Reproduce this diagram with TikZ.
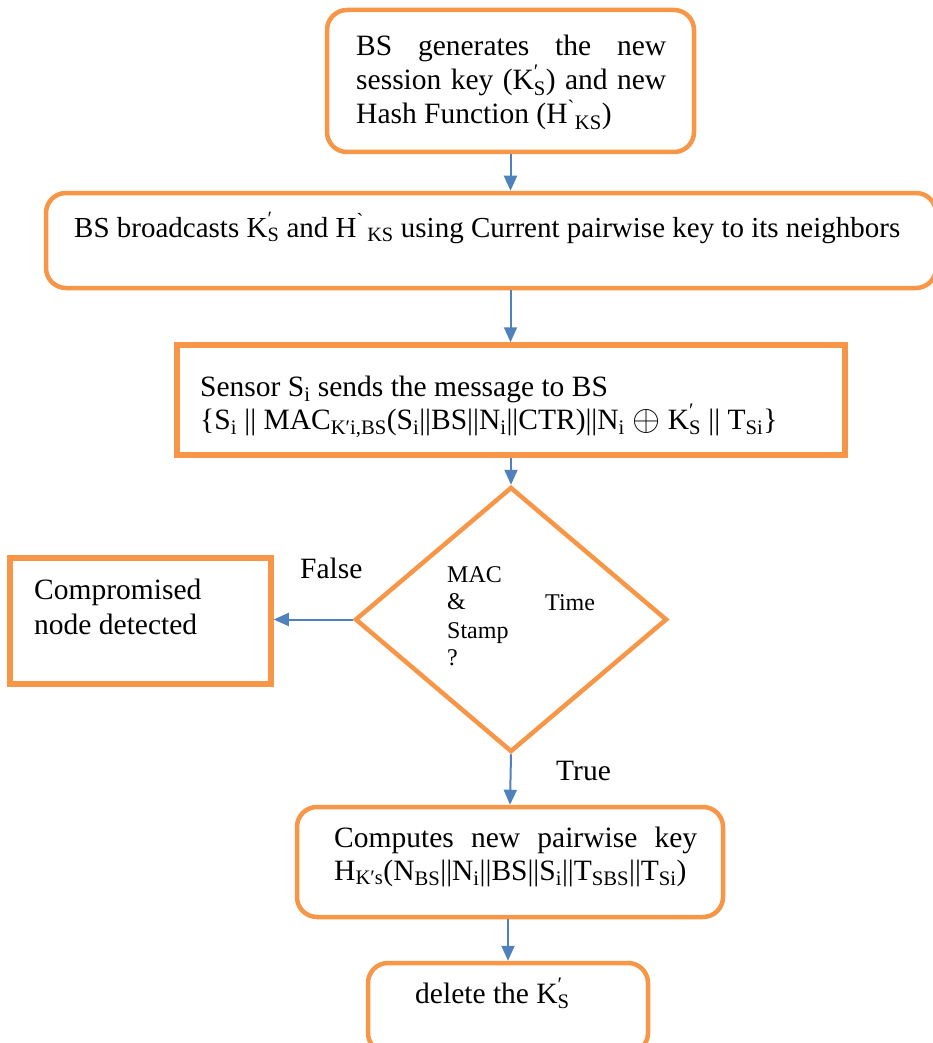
\documentclass[tikz,border=0pt]{standalone}
\usepackage{fontspec}
\setmainfont{Liberation Serif}
\usetikzlibrary{shapes.geometric,arrows.meta}
\definecolor{org}{HTML}{F79646}
\definecolor{arr}{HTML}{4F81BD}
\newcommand{\supsub}[2]{\rlap{\raisebox{2pt}{\textsuperscript{#1}}}\textsubscript{#2}}
\newcommand{\pr}{\char"2032}
\begin{document}
\begin{tikzpicture}[x=1pt,y=-1pt,
  rbox/.style={draw=org,line width=4.5pt,rounded corners=20pt,inner sep=0pt},
  sbox/.style={draw=org,line width=5.5pt,inner sep=0pt},
  dbox/.style={diamond,draw=org,line width=4.5pt,inner sep=0pt},
  txt/.style={anchor=base west,inner sep=0pt,font=\fontsize{29.5}{34}\selectfont},
  stxt/.style={anchor=base west,inner sep=0pt,font=\fontsize{24}{28}\selectfont},
  conn/.style={draw=arr,line width=2pt,-{Triangle[length=15pt,width=13pt]}}]
\useasboundingbox (0,0) rectangle (932,1043);
% boxes
\node[rbox,minimum width=367pt,minimum height=142pt] (b1) at (510.5,81) {};
\node[rbox,minimum width=890pt,minimum height=95pt] (b2) at (491,240.5) {};
\node[sbox,minimum width=668pt,minimum height=110pt] (b3) at (511,400) {};
\node[dbox,minimum width=312pt,minimum height=265pt] (dia) at (511,619.5) {};
\node[sbox,minimum width=261pt,minimum height=126pt] (cb) at (140.5,621) {};
\node[rbox,minimum width=426pt,minimum height=110pt] (b5) at (510,862) {};
\node[rbox,minimum width=280pt,minimum height=90pt] (b6) at (508,1008) {};
% texts
\node[txt] (t1a) at (356,56) {\makebox[310pt][s]{BS generates the new}};
\node[txt] (t1b) at (356,90) {\makebox[310pt][s]{session key (K\supsub{\pr}{S}) and new}};
\node[txt] (t1c) at (356,124) {Hash Function (H\textsuperscript{\textasciigrave}\textsubscript{KS})};
\node[txt,font=\fontsize{29}{34}\selectfont] (t2) at (74,237) {BS broadcasts K\supsub{\pr}{S} and H\textsuperscript{\textasciigrave}\textsubscript{\,KS} using Current pairwise key to its neighbors};
\node[txt] (t3a) at (200,396) {Sensor S\textsubscript{i} sends the message to BS};
\node[txt] (t3b) at (200,429) {\{S\textsubscript{i} || MAC\textsubscript{K\pr i,BS}(S\textsubscript{i}||BS||N\textsubscript{i}||CTR)||N\textsubscript{i} \raisebox{-1.5pt}{\scalebox{1.45}{$\oplus$}} K\supsub{\pr}{S} || T\textsubscript{Si}\}};
\node[txt] (t4a) at (34,599) {Compromised};
\node[txt] (t4b) at (34,634) {node detected};
\node[txt] (tf) at (300,578) {False};
\node[stxt] (d1) at (447,582) {MAC};
\node[stxt] (d2) at (447,609) {\&};
\node[stxt] (d3) at (545,610) {Time};
\node[stxt] (d4) at (447,638) {Stamp};
\node[stxt] (d5) at (447,665) {?};
\node[txt] (tt) at (556,780) {True};
\node[txt] (t5a) at (334,847) {\makebox[363pt][s]{Computes new pairwise key}};
\node[txt] (t5b) at (334,880) {H\textsubscript{K\pr s}(N\textsubscript{BS}||N\textsubscript{i}||BS||S\textsubscript{i}||T\textsubscript{SBS}||T\textsubscript{Si})};
\node[txt] (t6) at (415,1003) {delete the K\supsub{\pr}{S}};
% connectors
\draw[conn] (b1.south) -- (b1.south |- b2.north);
\draw[conn] (b1.south |- b2.south) -- (b1.south |- b3.north);
\draw[conn] (b3.south) -- (dia.north);
\draw[conn] (dia.west) -- (dia.west -| cb.east);
\draw[conn] (dia.south) -- (b5.north);
\draw[conn] (b6.north |- b5.south) -- (b6.north);
\end{tikzpicture}
\end{document}
